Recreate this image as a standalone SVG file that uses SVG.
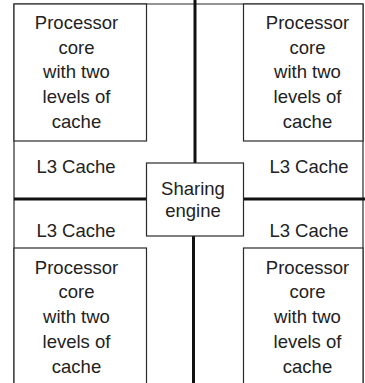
<svg xmlns="http://www.w3.org/2000/svg" width="365" height="383" viewBox="0 0 365 383">
<style>
.box{fill:#fff;stroke:#2a2a2a;stroke-width:1.2}
.frame{fill:none;stroke:#2a2a2a;stroke-width:1.2}
.bus{stroke:#111;stroke-width:3;fill:none}
text{font-family:"Liberation Sans",Arial,sans-serif;font-size:18.5px;fill:#222;text-anchor:middle}
</style>
<rect width="365" height="383" fill="#fff"/>
<g id="frame">
<path class="frame" d="M14,383 V4 H363 V383"/>
</g>
<g id="connectors">
<line class="bus" x1="195" y1="0" x2="195" y2="163"/>
<line class="bus" x1="193.5" y1="236" x2="193.5" y2="383"/>
<line class="bus" x1="14" y1="199" x2="147" y2="199"/>
<line class="bus" x1="243" y1="199" x2="365" y2="199"/>
</g>
<g id="core-tl">
<rect class="box" x="14" y="4" width="132.5" height="137"/>
<text x="76.5" y="29">Processor</text>
<text x="76.5" y="53.5">core</text>
<text x="76.5" y="78">with two</text>
<text x="76.5" y="102.5">levels of</text>
<text x="76.5" y="127.5">cache</text>
</g>
<g id="core-tr">
<rect class="box" x="243.5" y="4" width="119.5" height="137"/>
<text x="307.5" y="29">Processor</text>
<text x="307.5" y="53.5">core</text>
<text x="307.5" y="78">with two</text>
<text x="307.5" y="102.5">levels of</text>
<text x="307.5" y="127.5">cache</text>
</g>
<g id="l3-tl"><text x="76" y="173">L3 Cache</text></g>
<g id="l3-tr"><text x="309" y="173">L3 Cache</text></g>
<g id="l3-bl"><text x="76" y="237">L3 Cache</text></g>
<g id="l3-br"><text x="309" y="237">L3 Cache</text></g>
<g id="sharing-engine">
<rect class="box" x="146.5" y="163" width="97" height="73"/>
<text x="193" y="195">Sharing</text>
<text x="193" y="217">engine</text>
</g>
<g id="core-bl">
<rect class="box" x="14" y="248" width="132.5" height="140"/>
<text x="76.5" y="273.5">Processor</text>
<text x="76.5" y="298">core</text>
<text x="76.5" y="323">with two</text>
<text x="76.5" y="348">levels of</text>
<text x="76.5" y="373">cache</text>
</g>
<g id="core-br">
<rect class="box" x="243.5" y="248" width="119.5" height="140"/>
<text x="307.5" y="273.5">Processor</text>
<text x="307.5" y="298">core</text>
<text x="307.5" y="323">with two</text>
<text x="307.5" y="348">levels of</text>
<text x="307.5" y="373">cache</text>
</g>
</svg>
